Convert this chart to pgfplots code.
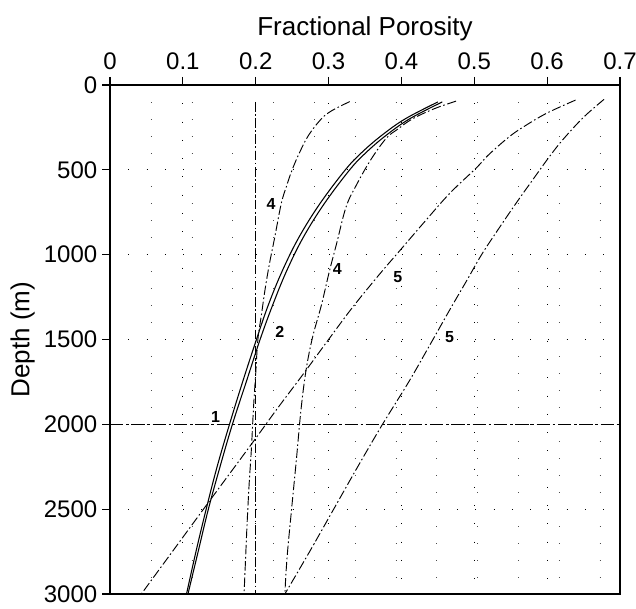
\documentclass[border=0pt]{standalone}
\usepackage{fontspec}
\setmainfont{Liberation Sans}
\usepackage{pgfplots}
\pgfplotsset{compat=1.18}
\begin{document}
\begin{tikzpicture}
\pgfplotsset{
  crv/.style={black, line width=0.8pt, smooth, tension=0.6},
  dd/.style={black, line width=0.7pt, smooth, tension=0.6, dash pattern=on 7pt off 2pt on 1.2pt off 2pt},
}
\tikzset{lbl/.style={font=\fontsize{12}{14}\selectfont\bfseries, inner sep=1pt}}
\begin{axis}[
  scale only axis, width=382.5pt, height=381.75pt,
  xmin=0, xmax=0.7, ymin=0, ymax=3000, y dir=reverse,
  xtick={0,0.1,0.2,0.3,0.4,0.5,0.6,0.7},
  xticklabels={0,0.1,0.2,0.3,0.4,0.5,0.6,0.7},
  ytick={0,500,1000,1500,2000,2500,3000},
  minor ytick={100,200,300,400,600,700,800,900,1100,1200,1300,1400,1600,1700,1800,1900,2100,2200,2300,2400,2600,2700,2800,2900},
  xtick pos=upper, xticklabel pos=upper,
  ytick pos=left, yticklabel pos=left,
  tick align=outside, major tick length=6pt, minor tick length=0pt,
  /pgf/number format/assume math mode=true,
  /pgf/number format/1000 sep={},
  tick label style={font=\fontsize{18}{21}\selectfont},
  xticklabel style={yshift=2pt},
  label style={font=\fontsize{19.5}{23}\selectfont},
  xlabel style={yshift=2pt},
  xlabel={Fractional Porosity}, ylabel={Depth (m)},
  axis line style={line width=0.9pt},
  every tick/.style={black, line width=0.8pt},
  grid=both,
  major grid style={black, line width=0.6pt, dash pattern=on 0.7pt off 13pt},
  minor grid style={black!70, line width=0.5pt, dash pattern=on 0.6pt off 30pt},
]
% curve 1 (solid)
\addplot[crv] coordinates {(0.450,100) (0.405,200) (0.372,300) (0.345,400) (0.323,500) (0.288,700) (0.259,900) (0.236,1100) (0.217,1300) (0.201,1500) (0.182,1750) (0.164,2000) (0.147,2250) (0.132,2500) (0.118,2750) (0.105,3000)};
% curve 2 (solid)
\addplot[crv] coordinates {(0.456,100) (0.411,200) (0.378,300) (0.351,400) (0.329,500) (0.294,700) (0.265,900) (0.242,1100) (0.223,1300) (0.206,1500) (0.187,1750) (0.168,2000) (0.151,2250) (0.135,2500) (0.121,2750) (0.107,3000)};
% constant 0.2 line
\addplot[dd] coordinates {(0.2,100) (0.2,3000)};
% 2000 m line
\addplot[black, line width=0.7pt, dash pattern=on 10pt off 2pt on 2pt off 2pt] coordinates {(0,2000) (0.7,2000)};
% curve 4 left
\addplot[dd] coordinates {(0.329,98) (0.305,150) (0.290,200) (0.272,300) (0.260,400) (0.250,500) (0.242,600) (0.235,700) (0.226,900) (0.219,1050) (0.213,1200) (0.208,1350) (0.203,1500) (0.200,1700) (0.197,1900) (0.194,2150) (0.191,2350) (0.188,2600) (0.186,2800) (0.184,3000)};
% curve 4 right
\addplot[dd] coordinates {(0.475,95) (0.445,140) (0.415,200) (0.395,260) (0.379,315) (0.358,440) (0.338,591) (0.324,719) (0.311,935) (0.301,1100) (0.290,1300) (0.278,1487) (0.269,1683) (0.262,1920) (0.256,2200) (0.249,2510) (0.243,2786) (0.240,3000)};
% curve 5 left
\addplot[dd] coordinates {(0.639,89) (0.600,165) (0.570,240) (0.548,305) (0.520,410) (0.502,492) (0.466,640) (0.430,815) (0.398,975) (0.370,1115) (0.333,1310) (0.300,1500) (0.265,1705) (0.230,1905) (0.197,2100) (0.130,2490) (0.043,3000)};
% curve 5 right
\addplot[dd] coordinates {(0.678,85) (0.650,190) (0.622,320) (0.603,423) (0.580,560) (0.557,699) (0.533,850) (0.510,1000) (0.490,1150) (0.467,1320) (0.438,1540) (0.410,1750) (0.374,2000) (0.340,2250) (0.307,2500) (0.274,2750) (0.240,3000)};
\node[lbl] at (axis cs:0.221,699) {4};
\node[lbl] at (axis cs:0.312,1083) {4};
\node[lbl] at (axis cs:0.233,1457) {2};
\node[lbl] at (axis cs:0.145,1959) {1};
\node[lbl] at (axis cs:0.395,1132) {5};
\node[lbl] at (axis cs:0.466,1486) {5};
\coordinate (bl) at (axis cs:0,3000);
\coordinate (tr) at (axis cs:0.7,0);
\end{axis}
\pgfresetboundingbox
\path[use as bounding box] ([shift={(-82.5pt,-10.5pt)}]bl) rectangle ([shift={(12pt,63.75pt)}]tr);
\end{tikzpicture}
\end{document}
